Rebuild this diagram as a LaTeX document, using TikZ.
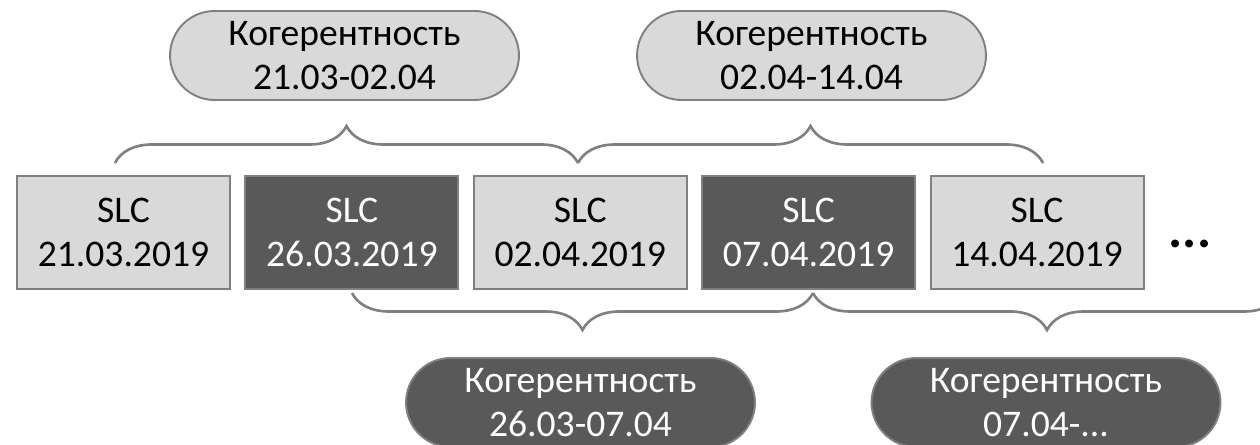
\documentclass[tikz,border=0pt]{standalone}
\usepackage{fontspec}
\setmainfont{Carlito}
\usetikzlibrary{positioning,decorations.pathreplacing}
\definecolor{slclight}{HTML}{D9D9D9}
\definecolor{slcdark}{HTML}{595959}
\definecolor{slcedge}{HTML}{808080}

\begin{document}
\begin{tikzpicture}[x=0.02cm, y=-0.02cm,
  every node/.style={font=\fontsize{21.4}{25}\selectfont, align=center},
  slc/.style={rectangle, draw=slcedge, line width=1.1pt, minimum width=4.26cm, minimum height=2.26cm, inner sep=0pt},
  slclt/.style={slc, fill=slclight, text=black},
  slcdk/.style={slc, fill=slcdark, text=white},
  coh/.style={rectangle, rounded corners=0.89cm, draw=slcedge, line width=1.1pt, minimum width=6.98cm, minimum height=1.78cm, inner sep=0pt},
  cohlt/.style={coh, fill=slclight, text=black},
  cohdk/.style={coh, fill=slcdark, text=white},
  bracket/.style={draw=slcedge, line width=1.5pt, decorate, decoration={brace, amplitude=0.74cm}}]
 \useasboundingbox (0,0) rectangle (1260,445);
 \clip (0,0) rectangle (1260,445);
 % SLC images
 \node[slclt] (s1) at (123.5,232.5) {SLC\\21.03.2019};
 \node[slcdk, right=0.27cm of s1] (s2) {SLC\\26.03.2019};
 \node[slclt, right=0.27cm of s2] (s3) {SLC\\02.04.2019};
 \node[slcdk, right=0.27cm of s3] (s4) {SLC\\07.04.2019};
 \node[slclt, right=0.27cm of s4] (s5) {SLC\\14.04.2019};
 \node[font=\fontsize{30}{32}\selectfont\bfseries] (more) at (1190,244) {...};
 % coherence pairs
 \node[cohlt] (c1) at (344.5,55.5) {Когерентность\\21.03-02.04};
 \node[cohlt] (c2) at (811.5,55.5) {Когерентность\\02.04-14.04};
 \node[cohdk] (c3) at (580.5,402.5) {Когерентность\\26.03-07.04};
 \node[cohdk] (c4) at (1046,402.5) {Когерентность\\07.04-...};
 % braces
 \coordinate (a0) at (115,163);
 \coordinate (a1) at (578,163);
 \coordinate (a2) at (1043,163);
 \coordinate (b0) at (352,293);
 \coordinate (b1) at (813,293);
 \coordinate (b2) at (1281,293);
 \draw[bracket] (a0) -- (a1);
 \draw[bracket] (a1) -- (a2);
 \draw[bracket] (b1) -- (b0);
 \draw[bracket] (b2) -- (b1);
\end{tikzpicture}
\end{document}
